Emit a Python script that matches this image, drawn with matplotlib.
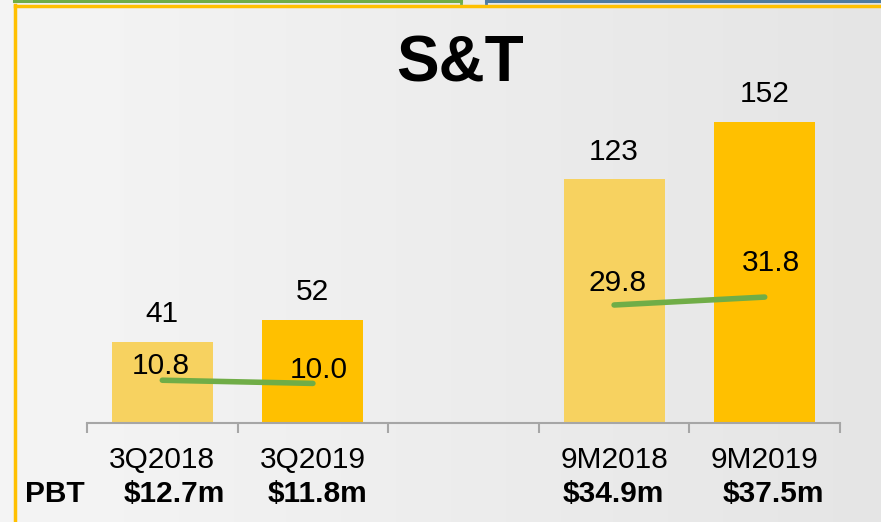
import numpy as np
import matplotlib
matplotlib.use('Agg')
import matplotlib.pyplot as plt
from matplotlib.lines import Line2D
from matplotlib.patches import Rectangle

plt.rcParams['font.family'] = ['Liberation Sans', 'DejaVu Sans']

# data
categories = ['3Q2018', '3Q2019', '', '9M2018', '9M2019']
bar_pos = [0, 1, 3, 4]
revenue = [41, 52, 123, 152]
pbt_margin = [10.8, 10.0, 29.8, 31.8]
pbt_labels = ['$12.7m', '$11.8m', '$34.9m', '$37.5m']
bar_colors = ['#F7D260', '#FFC000', '#F7D260', '#FFC000']

W, H = 881, 522
FS = 21.5
fig = plt.figure(figsize=(W / 100, H / 100), dpi=100)

# background gradient
bg = fig.add_axes([0, 0, 1, 1])
grad = np.linspace(0.958, 0.895, 256)
img = np.tile(grad, (20, 1))
bg.imshow(img, cmap='gray', vmin=0, vmax=1, aspect='auto', extent=[0, W, 0, H])
bg.add_patch(Rectangle((0, 0), 15, H, color='#f4f4f4', zorder=2))
bg.set_xlim(0, W)
bg.set_ylim(H, 0)
bg.axis('off')
# frame lines at top
bg.add_line(Line2D([15, W], [5.5, 5.5], color='#FFC000', lw=2.5, zorder=3))
bg.add_line(Line2D([15, 15], [5, H], color='#FFC000', lw=2.5, zorder=3))
bg.add_line(Line2D([14, 461], [1.2, 1.2], color='#70AD47', lw=2.2, zorder=3))
bg.add_line(Line2D([461, 461], [0, 2.5], color='#70AD47', lw=2, zorder=3))
bg.add_line(Line2D([486, W], [1.2, 1.2], color='#4F7BA0', lw=2.2, zorder=3))
bg.add_line(Line2D([486, 486], [0, 2.5], color='#4F7BA0', lw=2, zorder=3))

# main axes
left, right, base, top = 87, 840, 423, 20
ax = fig.add_axes([left / W, (H - base) / H, (right - left) / W, (base - top) / H])
ax.patch.set_alpha(0)
ymax = (base - top) / 1.98
ax.set_ylim(0, ymax)
ax.set_xlim(-0.5, 4.5)
ax.bar(bar_pos, revenue, width=0.67, color=bar_colors, zorder=2)
for x, v in zip(bar_pos, revenue):
    ax.text(x, v + 7, str(v), ha='center', va='bottom', fontsize=FS)

for s in ['top', 'right', 'left']:
    ax.spines[s].set_visible(False)
ax.spines['bottom'].set_color('#A6A6A6')
ax.spines['bottom'].set_linewidth(1.5)
ax.set_yticks([])
ax.set_xticks(np.arange(-0.5, 5, 1))
ax.set_xticklabels([])
ax.tick_params(axis='x', length=7, width=1.5, color='#A6A6A6', direction='out')

for i, c in enumerate(categories):
    if c:
        ax.text(i, -0.092, c, transform=ax.get_xaxis_transform(), ha='center',
                va='center', fontsize=FS)

# secondary axis for PBT margin lines
ax2 = ax.twinx()
ax2.set_ylim(0, ymax / 2)
ax2.axis('off')
ax2.plot(bar_pos[:2], pbt_margin[:2], color='#70AD47', lw=4, solid_capstyle='round', zorder=3)
ax2.plot(bar_pos[2:], pbt_margin[2:], color='#70AD47', lw=4, solid_capstyle='round', zorder=3)
offsets = [(-0.01, 3.5), (0.04, 3.5), (0.02, 5.5), (0.04, 8.5)]
for x, v, (dx, dy) in zip(bar_pos, pbt_margin, offsets):
    ax2.text(x + dx, v + dy, f'{v:.1f}', ha='center', va='center', fontsize=FS)

# PBT row
fig.text(55 / W, 1 - 494 / H, 'PBT', ha='center', va='center', fontsize=FS, fontweight='bold')
pbt_x = [174, 318, 613, 773]
for px, lab in zip(pbt_x, pbt_labels):
    fig.text(px / W, 1 - 494 / H, lab, ha='center', va='center', fontsize=FS, fontweight='bold')

# title
fig.text(460 / W, 1 - 64 / H, 'S&T', ha='center', va='center', fontsize=46, fontweight='bold')

fig.savefig('out.png', dpi=100)
